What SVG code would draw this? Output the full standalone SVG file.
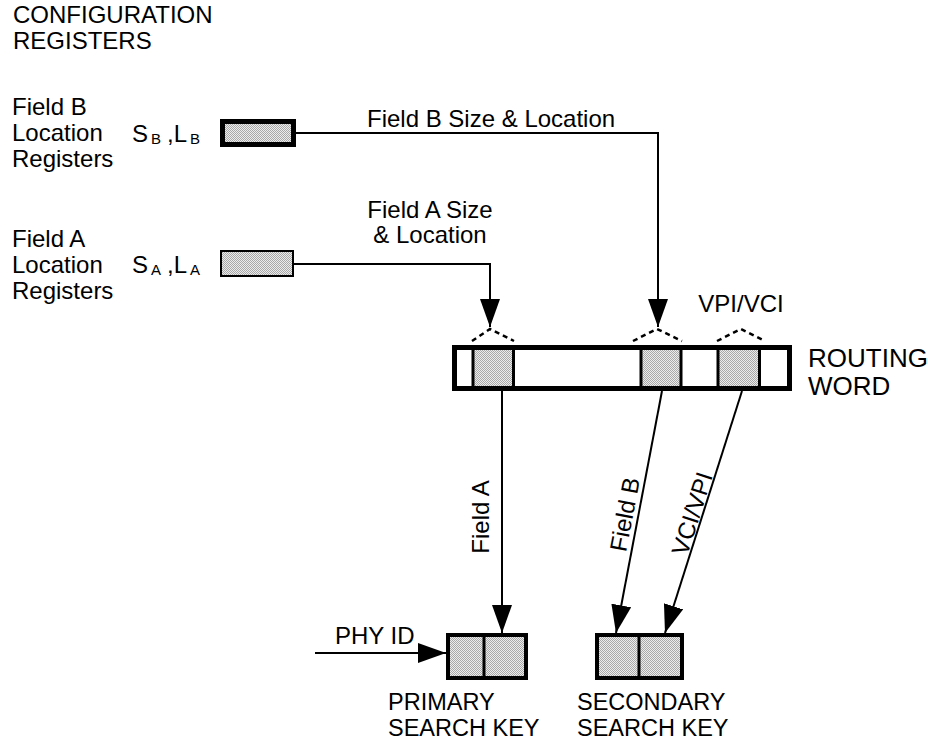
<svg xmlns="http://www.w3.org/2000/svg" width="928" height="740" viewBox="0 0 928 740">
<style>
text{font-family:"Liberation Sans",Arial,sans-serif;font-size:24px;fill:#000}
.sub{font-size:15px}
.big{font-size:26px}
.key{font-size:23.5px}
.ln{fill:none;stroke:#000;stroke-width:2}
.dash{fill:none;stroke:#000;stroke-width:2.5;stroke-dasharray:5 4}
.box{fill:url(#dots);stroke:#000}
.div{stroke:#000;stroke-width:3}
</style>
<defs>
<pattern id="dots" width="2" height="2" patternUnits="userSpaceOnUse">
<rect width="2" height="2" fill="#ececec"/>
<rect width="1" height="1" fill="#a8a8a8"/>
<rect x="1" y="1" width="1" height="1" fill="#a8a8a8"/>
</pattern>
<marker id="arr" viewBox="0 0 28 20" refX="28" refY="10" markerWidth="28" markerHeight="20" markerUnits="userSpaceOnUse" orient="auto">
<path d="M0,0 L28,10 L0,20 Z" fill="#000"/>
</marker>
</defs>

<g id="title">
<text x="13" y="23">CONFIGURATION</text>
<text x="13" y="49">REGISTERS</text>
</g>

<g id="fieldB-reg">
<text x="12" y="115">Field B</text>
<text x="12" y="141">Location</text>
<text x="12" y="167">Registers</text>
<text x="132" y="142">S<tspan class="sub" x="151" y="144">B</tspan><tspan x="167" y="142">,L</tspan><tspan class="sub" x="190" y="144">B</tspan></text>
<rect class="box" x="222.5" y="121.5" width="71" height="23" stroke-width="5"/>
</g>

<g id="fieldA-reg">
<text x="12" y="247">Field A</text>
<text x="12" y="273">Location</text>
<text x="12" y="299">Registers</text>
<text x="132" y="273">S<tspan class="sub" x="151" y="275">A</tspan><tspan x="167" y="273">,L</tspan><tspan class="sub" x="190" y="275">A</tspan></text>
<rect class="box" x="221" y="251" width="72" height="25" stroke-width="2"/>
</g>

<g id="routing-word">
<rect x="454.5" y="347.5" width="335" height="41" fill="#fff" stroke="#000" stroke-width="5"/>
<rect x="474" y="350" width="39" height="36" fill="url(#dots)"/>
<rect x="642" y="350" width="39" height="36" fill="url(#dots)"/>
<rect x="719" y="350" width="40" height="36" fill="url(#dots)"/>
<line class="div" x1="473" y1="348" x2="473" y2="389"/>
<line class="div" x1="513.5" y1="348" x2="513.5" y2="389"/>
<line class="div" x1="641" y1="348" x2="641" y2="389"/>
<line class="div" x1="681" y1="348" x2="681" y2="389"/>
<line class="div" x1="718" y1="348" x2="718" y2="389"/>
<line class="div" x1="759.5" y1="348" x2="759.5" y2="389"/>
<path class="dash" d="M472,341 L490,329 L514,341"/>
<path class="dash" d="M633,341 L657,329 L682,341"/>
<path class="dash" d="M717,341 L741,329 L765,341"/>
<text x="741" y="312" text-anchor="middle">VPI/VCI</text>
<text class="big" x="808" y="367">ROUTING</text>
<text class="big" x="808" y="395">WORD</text>
</g>

<g id="primary-key">
<rect class="box" x="448" y="635" width="78" height="43" stroke-width="4"/>
<line class="div" x1="484" y1="635" x2="484" y2="678"/>
<text class="key" x="388" y="710">PRIMARY</text>
<text class="key" x="388" y="736">SEARCH KEY</text>
</g>

<g id="secondary-key">
<rect class="box" x="597" y="635" width="85" height="43" stroke-width="4"/>
<line class="div" x1="639" y1="635" x2="639" y2="678"/>
<text class="key" x="577" y="710">SECONDARY</text>
<text class="key" x="577" y="736">SEARCH KEY</text>
</g>

<g id="connectors">
<path class="ln" d="M296,133 H658 V327" marker-end="url(#arr)"/>
<text x="367" y="127">Field B Size &amp; Location</text>
<path class="ln" d="M294,264 H490 V327" marker-end="url(#arr)"/>
<text x="430" y="218" text-anchor="middle">Field A Size</text>
<text x="430" y="243" text-anchor="middle">&amp; Location</text>
<line class="ln" x1="502" y1="391" x2="502" y2="633" marker-end="url(#arr)"/>
<text transform="translate(489,517) rotate(-90)" text-anchor="middle">Field A</text>
<line class="ln" x1="662" y1="391" x2="616" y2="633" marker-end="url(#arr)"/>
<text transform="translate(633,516) rotate(-79.2)" text-anchor="middle">Field B</text>
<line class="ln" x1="742" y1="391" x2="665" y2="633" stroke-width="3" marker-end="url(#arr)"/>
<text transform="translate(700,516) rotate(-72.3)" text-anchor="middle">VCI/VPI</text>
<line class="ln" x1="315" y1="653" x2="446" y2="653" marker-end="url(#arr)"/>
<text x="335" y="644">PHY ID</text>
</g>
</svg>
